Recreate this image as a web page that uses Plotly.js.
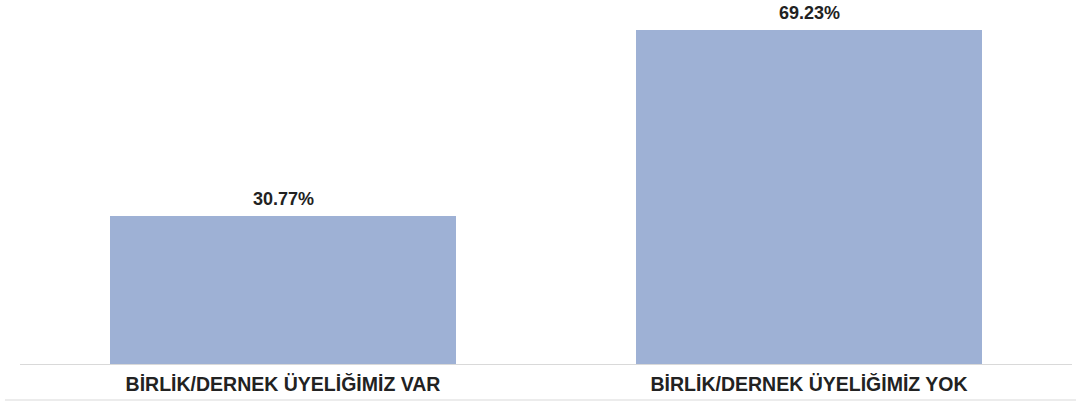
<!DOCTYPE html>
<html>
<head>
<meta charset="utf-8">
<script src="https://cdn.plot.ly/plotly-3.0.1.min.js"></script>
<style>html,body{margin:0;padding:0;background:#fff;}#chart{width:1076px;height:404px;}</style>
</head>
<body>
<div id="chart"></div>
<script>
const categories = ["BİRLİK/DERNEK ÜYELİĞİMİZ VAR", "BİRLİK/DERNEK ÜYELİĞİMİZ YOK"];
const values = [30.77, 69.23];
const valueLabels = ["30.77%", "69.23%"];

const trace = {
  type: 'bar',
  x: categories,
  y: values,
  marker: {color: 'rgb(158,177,213)'},
  width: 0.658,
  hoverinfo: 'none'
};

const annotations = categories.map((c, i) => ({
  x: c, y: values[i], xref: 'x', yref: 'y',
  text: valueLabels[i], showarrow: false,
  yanchor: 'bottom', yshift: 5,
  font: {family: 'Liberation Sans, Arial, sans-serif', size: 18, color: '#222222', weight: 'bold'}
}));

const layout = {
  width: 1076, height: 404,
  margin: {l: 20, r: 4, t: 4, b: 40},
  paper_bgcolor: '#ffffff', plot_bgcolor: '#ffffff',
  showlegend: false,
  bargap: 0,
  xaxis: {
    range: [-0.5, 1.5],
    showline: true, linecolor: '#d9d9d9', linewidth: 1,
    showgrid: false, zeroline: false, ticks: '',
    ticklabelstandoff: 3,
    tickfont: {family: 'Liberation Sans, Arial, sans-serif', size: 19.5, color: '#222222', weight: 'bold'},
    fixedrange: true
  },
  yaxis: {
    range: [0, 74.6],
    visible: false, showgrid: false, zeroline: false, fixedrange: true
  },
  annotations: annotations,
  shapes: [{
    type: 'line', xref: 'paper', yref: 'paper',
    x0: -0.0143, x1: 1.004, y0: -0.1, y1: -0.1,
    line: {color: '#d9d9d9', width: 1}
  }]
};

Plotly.newPlot('chart', [trace], layout, {displayModeBar: false, staticPlot: true});
</script>
</body>
</html>
